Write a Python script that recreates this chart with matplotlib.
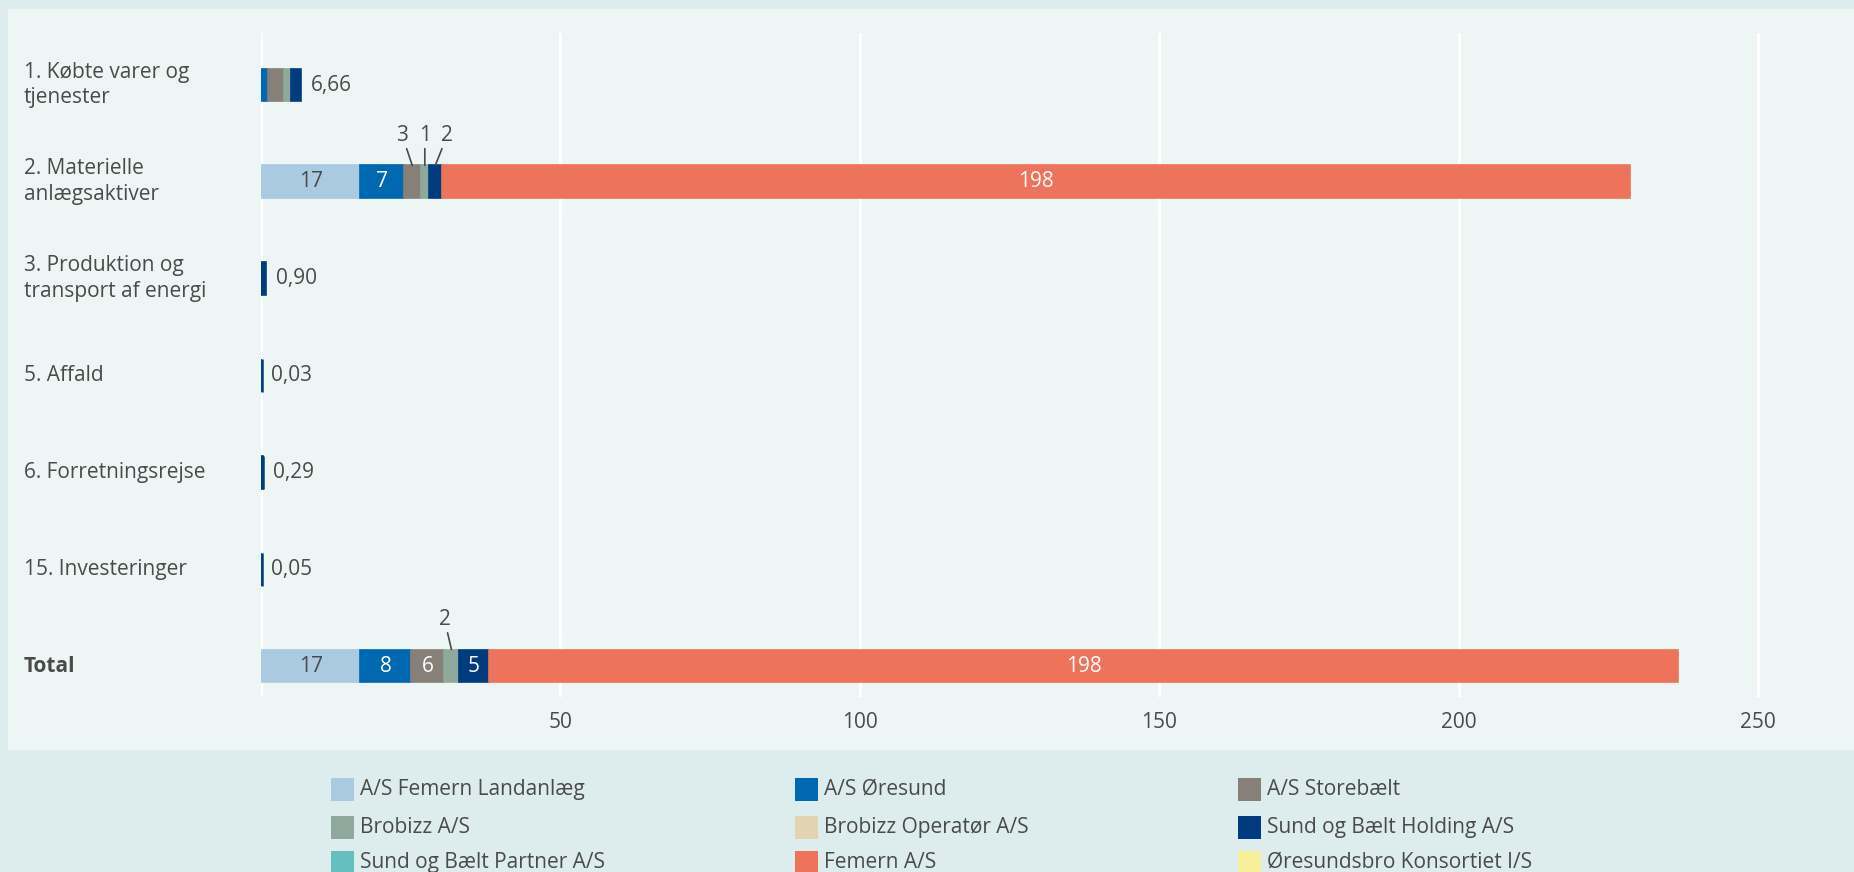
import matplotlib.pyplot as plt
import numpy as np
from matplotlib.patches import Rectangle

plt.rcParams['font.family'] = ['Open Sans', 'DejaVu Sans']

# kategorier (rækker) og selskaber (serier)
rows = ['1. Købte varer og\ntjenester', '2. Materielle\nanlægsaktiver',
        '3. Produktion og\ntransport af energi', '5. Affald',
        '6. Forretningsrejse', '15. Investeringer']
companies = ['A/S Femern Landanlæg', 'A/S Øresund', 'A/S Storebælt',
             'Brobizz A/S', 'Brobizz Operatør A/S', 'Sund og Bælt Holding A/S',
             'Sund og Bælt Partner A/S', 'Femern A/S', 'Øresundsbro Konsortiet I/S']
colors = ['#a9cae1', '#0067b1', '#878079', '#8ea99b', '#e2d4b0', '#003c7d',
          '#64bfbe', '#ee735b', '#f8ef9a']

landanlaeg = [0, 16.6, 0, 0, 0, 0]
oresund = [1.2, 7.2, 0, 0, 0, 0]
storebaelt = [2.7, 2.9, 0, 0, 0, 0]
brobizz = [1.1, 1.3, 0, 0, 0, 0]
brobizz_op = [0, 0, 0, 0, 0, 0]
holding = [1.66, 2.2, 0.90, 0.03, 0.29, 0.05]
partner = [0, 0, 0, 0, 0, 0]
femern = [0, 198.4, 0, 0, 0, 0]
oresundsbro = [0, 0, 0, 0, 0, 0]

series = [landanlaeg, oresund, storebaelt, brobizz, brobizz_op, holding,
          partner, femern, oresundsbro]
data = np.array(series, dtype=float)
data = np.hstack([data, data.sum(axis=1, keepdims=True)])  # Total-række
labels = rows + ['Total']
xticks = [50, 100, 150, 200, 250]

# rækker med værdier i segmenterne (resten får kun total til sidst)
segment_rows = [1, 6]
# forskydning (px) for små segmenter der får label over baren
small_offsets = {(1, 2): -10, (1, 3): 0, (1, 5): 12, (6, 3): -7}

bg_outer = '#ddecec'
bg_panel = '#eef6f5'
text_col = '#4a4a4a'
fs = 15

fig = plt.figure(figsize=(18.54, 8.72), dpi=100, facecolor=bg_outer)
fig.patches.append(Rectangle((8 / 1854, (872 - 750) / 872), 1 - 8 / 1854, (750 - 9) / 872,
                             transform=fig.transFigure, facecolor=bg_panel,
                             edgecolor='none', zorder=-5))

ax = fig.add_axes([261 / 1854, (872 - 697) / 872, 1589 / 1854, 664 / 872])
ax.patch.set_alpha(0)

y = np.arange(len(labels))
h = 0.34
left = np.zeros(len(labels))
for i, (name, col) in enumerate(zip(companies, colors)):
    vals = data[i]
    idx = vals > 0
    ax.barh(y[idx], vals[idx], left=left[idx], height=h, color=col,
            edgecolor=col, linewidth=1.2, zorder=3)
    for r in np.where(idx)[0]:
        if r not in segment_rows:
            continue
        v = vals[r]
        cx = left[r] + v / 2
        txt = f'{v:.0f}'
        if v >= 4:
            tc = text_col if col in ('#a9cae1', '#e2d4b0', '#f8ef9a') else 'white'
            ax.text(cx, r, txt, ha='center', va='center', color=tc, fontsize=fs, zorder=4)
        else:
            dx = small_offsets.get((r, i), 0)
            ax.annotate(txt, xy=(cx, r - h / 2), xytext=(dx, 30), textcoords='offset pixels',
                        ha='center', va='center', color=text_col, fontsize=fs,
                        arrowprops=dict(arrowstyle='-', color=text_col, lw=1.2,
                                        shrinkA=0, shrinkB=0), zorder=4)
    left = left + vals

# tynde barer (små værdier) får en synlig minimumsbredde
for r in range(len(labels)):
    if 0 < left[r] < 0.5:
        ax.plot([left[r] / 2 + 0.15, left[r] / 2 + 0.15], [r - h / 2, r + h / 2], color=colors[5],
                lw=1.8, solid_capstyle='butt', zorder=3)

for r in range(len(labels)):
    if r in segment_rows:
        continue
    ax.annotate(f'{left[r]:.2f}'.replace('.', ','), xy=(left[r], r), xytext=(10, 0),
                textcoords='offset pixels', ha='left', va='center',
                color=text_col, fontsize=fs)

ax.set_xlim(0, 265.3)
ax.set_ylim(len(labels) - 1 + 0.32, -0.537)
ax.set_xticks(xticks)
ax.set_xticklabels([str(t) for t in xticks], color=text_col, fontsize=fs)
ax.tick_params(axis='x', length=0, pad=11)
ax.set_yticks([])
ax.grid(axis='x', color='white', linewidth=2, zorder=1)
ax.axvline(0, color='white', linewidth=2, zorder=1)
for s in ax.spines.values():
    s.set_visible(False)

# kategorinavne til venstre
trans = ax.get_yaxis_transform()
for r, lab in enumerate(labels):
    ax.annotate(lab, xy=(0, r), xycoords=trans, xytext=(-237, 0), textcoords='offset pixels',
                fontsize=fs, color=text_col, ha='left', va='center', linespacing=1.3,
                fontweight='bold' if lab == 'Total' else 'normal', annotation_clip=False)

# forklaring
col_x = [331, 795, 1238]
row_y = [789, 827, 862]
for i, (name, col) in enumerate(zip(companies, colors)):
    cx = col_x[i % 3]
    cy = row_y[i // 3]
    fig.patches.append(Rectangle((cx / 1854, (872 - cy - 11.5) / 872), 23 / 1854, 23 / 872,
                                 transform=fig.transFigure, facecolor=col, edgecolor='none'))
    fig.text((cx + 29) / 1854, (872 - cy) / 872, name, fontsize=fs, color=text_col,
             ha='left', va='center')

fig.savefig('out.png', dpi=100, facecolor=bg_outer)
